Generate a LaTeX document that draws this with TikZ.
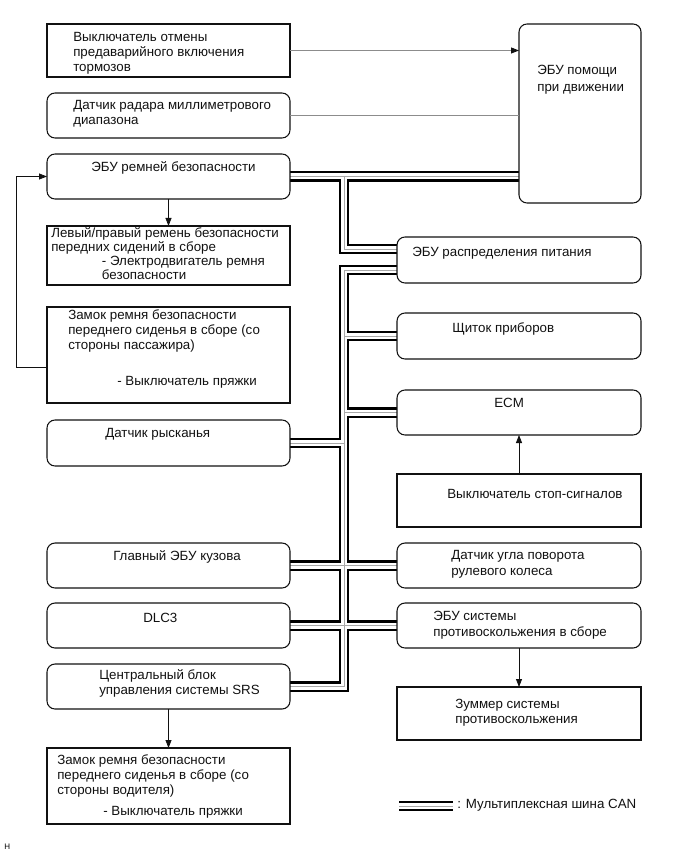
\documentclass[tikz,border=0pt]{standalone}
\usepackage{fontspec}
\setmainfont{Liberation Sans}
\usepackage{xcolor}
\definecolor{boxInk}{HTML}{111111}
\definecolor{linkGray}{HTML}{8C8C8C}
\definecolor{busGray}{HTML}{A8A8A8}
\usetikzlibrary{arrows.meta, backgrounds}

\begin{document}
\begin{tikzpicture}[
  x=0.75pt, y=-0.75pt,
  box/.style = {rectangle, draw=boxInk, line width=0.8pt, anchor=north west,
                inner sep=0pt, outer sep=0pt, minimum width=182.25pt},
  rbox/.style = {box, rounded corners=6pt},
  txt/.style = {anchor=base west, align=left, inner sep=0pt, text=boxInk,
                font=\fontsize{10pt}{11.25pt}\selectfont},
  link/.style = {draw=linkGray, line width=0.7pt},
  arrow/.style = {-{Triangle[length=6pt, width=4.5pt]}, line width=0.6pt, draw=boxInk},
  canouter/.style = {draw=black, line width=8.1pt, line join=miter},
  caninner/.style = {draw=white, line width=4.5pt, line join=miter},
  cancore/.style = {draw=busGray, line width=0.6pt, line join=miter},
]
\useasboundingbox (0,0) rectangle (691,855);

% Left column
\node[box,  minimum height=39.75pt] (brake)   at (47,24)  {};
\node[rbox, minimum height=33.75pt] (radar)   at (47,93)  {};
\node[rbox, minimum height=33.75pt] (belt)    at (47,154) {};
\node[box,  minimum height=44.25pt] (lrbelt)  at (47,226) {};
\node[box,  minimum height=72pt]    (buckleP) at (47,307) {};
\node[rbox, minimum height=34.5pt]  (yaw)     at (47,420) {};
\node[rbox, minimum height=33.75pt] (body)    at (47,543) {};
\node[rbox, minimum height=33.75pt] (dlc)     at (47,603) {};
\node[rbox, minimum height=33.75pt] (srs)     at (47,664) {};
\node[box,  minimum height=57pt]    (buckleD) at (47,748) {};

% Right column
\node[rbox, minimum width=91.5pt, minimum height=134.25pt] (assist) at (519,24) {};
\node[rbox, minimum width=183pt, minimum height=34.5pt]  (power)  at (397,237) {};
\node[rbox, minimum width=183pt, minimum height=34.5pt]  (meter)  at (397,313) {};
\node[rbox, minimum width=183pt, minimum height=33.75pt] (ecm)    at (397,390) {};
\node[box,  minimum width=183pt, minimum height=39.75pt] (stop)   at (397,474) {};
\node[rbox, minimum width=183pt, minimum height=33.75pt] (steer)  at (397,543) {};
\node[rbox, minimum width=183pt, minimum height=33.75pt] (abs)    at (397,603) {};
\node[box,  minimum width=183pt, minimum height=39.75pt] (buzzer) at (397,687) {};

% Texts (multi-line ones sit on the baseline of their last line)
\node[txt] (brake-t) at (73,72) {Выключатель отмены\\предаварийного включения\\тормозов};
\node[txt] (radar-t) at (73,125) {Датчик радара миллиметрового\\диапазона};
\node[txt] (belt-t) at (91,172) {ЭБУ ремней безопасности};
\node[txt, font=\fontsize{10pt}{10.3pt}\selectfont] (lrbelt-t) at (51,279)
      {Левый/правый ремень безопасности\\передних сидений в сборе\\
       \hspace*{38pt}- Электродвигатель ремня\\\hspace*{38pt}безопасности};
\node[txt] (buckleP-t) at (68,385)
      {Замок ремня безопасности\\переднего сиденья в сборе (со\\стороны пассажира)\\[15.75pt]
       \hspace*{36.75pt}- Выключатель пряжки};
\node[txt] (yaw-t) at (105,437) {Датчик рысканья};
\node[txt] (body-t) at (113,560) {Главный ЭБУ кузова};
\node[txt] (dlc-t) at (143,622) {DLC3};
\node[txt] (srs-t) at (99,694) {Центральный блок\\управления системы SRS};
\node[txt] (buckleD-t) at (57,815)
      {Замок ремня безопасности\\переднего сиденья в сборе (со\\стороны водителя)\\[4.5pt]
       \hspace*{34.5pt}- Выключатель пряжки};
\node[txt] (assist-t) at (537,92) {ЭБУ помощи\\[1.5pt]при движении};
\node[txt] (power-t) at (412,257) {ЭБУ распределения питания};
\node[txt] (meter-t) at (452,332) {Щиток приборов};
\node[txt] (ecm-t) at (494,407) {ECM};
\node[txt] (stop-t) at (447,498) {Выключатель стоп-сигналов};
\node[txt] (steer-t) at (451,575) {Датчик угла поворота\\[0.75pt]рулевого колеса};
\node[txt] (abs-t) at (433,636) {ЭБУ системы\\[0.75pt]противоскольжения в сборе};
\node[txt] (buzzer-t) at (455,723) {Зуммер системы\\противоскольжения};
\node[txt] (can-t) at (457,808) {: Мультиплексная шина CAN};
\node[anchor=base west, inner sep=0pt, font=\fontsize{6pt}{7pt}\selectfont] (figid) at (4,849) {H};

% Signal lines
\draw[link, -{Triangle[length=6pt, width=4.5pt, color=boxInk]}] (brake.east) -- (brake.east -| assist.west);
\draw[link] (radar.east) -- (radar.east -| assist.west);
\draw[arrow] (belt.south) -- (lrbelt.north);
\draw[arrow] ([shift={(0,12)}]buckleP.west) -- ++(-31,0) |- (belt.west);
\draw[arrow] (stop.north) -- (ecm.south);
\draw[arrow] (srs.south) -- (buckleD.north);
\draw[arrow] (abs.south) -- (buzzer.north);

% CAN bus
\coordinate (trunk) at (344,176.5);
\coordinate (legA) at (399,806);
\coordinate (legB) at (453,806);
\begin{scope}[on background layer]
\foreach \lay in {canouter, caninner, cancore} {
  \draw[\lay] (belt.east) -- (belt.east -| assist.west)
              (trunk) |- ([shift={(0,-11)}]power.west)
              ([shift={(0,10)}]power.west) -| (trunk |- srs.east) -- (srs.east)
              (trunk |- meter.west) -- (meter.west)
              (trunk |- ecm.west) -- (ecm.west)
              (yaw.east) -- (yaw.east -| trunk)
              (body.east) -- (steer.west)
              (dlc.east) -- (abs.west)
              (legA) -- (legB);
}
\end{scope}

\end{tikzpicture}
\end{document}
